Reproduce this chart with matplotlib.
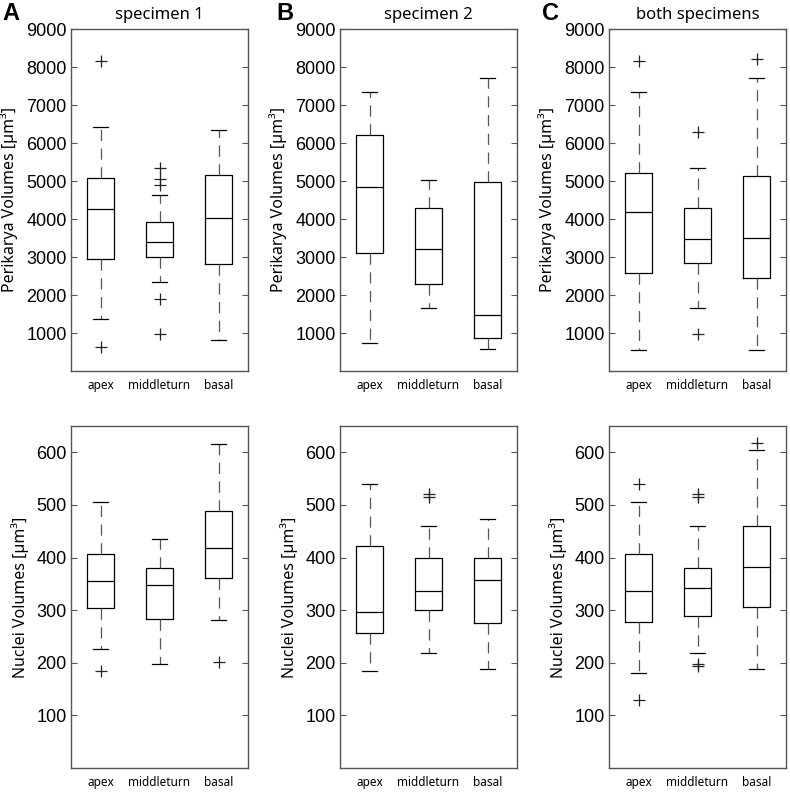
import matplotlib
matplotlib.use('Agg')
import matplotlib.pyplot as plt

plt.rcParams['font.family'] = ['Liberation Sans', 'DejaVu Sans']

# groups and panels
groups = ['apex', 'middleturn', 'basal']
letters = ['A', 'B', 'C']
titles = ['specimen 1', 'specimen 2', 'both specimens']

# Perikarya volumes (one row per panel: specimen 1, specimen 2, both)
peri_whislo = [[1360, 2335, 825], [737, 1668, 570], [540, 1668, 553]]
peri_q1 = [[2950, 3011, 2809], [3108, 2300, 860], [2572, 2836, 2441]]
peri_med = [[4258, 3389, 4021], [4829, 3213, 1475], [4197, 3486, 3512]]
peri_q3 = [[5092, 3925, 5171], [6208, 4285, 4961], [5198, 4285, 5136]]
peri_whishi = [[6430, 4627, 6330], [7330, 5031, 7700], [7330, 5347, 7700]]
peri_fliers = [[[8160, 640], [5330, 5050, 4900, 1900, 975], []],
               [[], [], []],
               [[8160], [6300, 975], [8210]]]

# Nuclei volumes
nuc_whislo = [[227, 197, 282], [185, 219, 188], [180, 219, 188]]
nuc_q1 = [[304, 284, 362], [256, 300, 275], [278, 289, 306]]
nuc_med = [[355, 348, 419], [297, 336, 358], [336, 343, 382]]
nuc_q3 = [[406, 380, 489], [421, 399, 399], [406, 380, 460]]
nuc_whishi = [[505, 435, 615], [539, 459, 474], [505, 459, 605]]
nuc_fliers = [[[184], [], [201]],
              [[], [520, 515], []],
              [[539, 130], [520, 515, 198, 194], [618]]]

peri_ticks = [1000, 2000, 3000, 4000, 5000, 6000, 7000, 8000, 9000]
nuc_ticks = [100, 200, 300, 400, 500, 600]

txt_font = ['Noto Sans', 'DejaVu Sans']


def make_stats(wlo, q1, med, q3, whi, fl):
    stats = []
    for i in range(len(groups)):
        stats.append(dict(whislo=wlo[i], q1=q1[i], med=med[i], q3=q3[i],
                          whishi=whi[i], fliers=fl[i], label=groups[i]))
    return stats


def draw_panel(ax, stats, ylim, yticks, ylabel, labelx):
    ax.bxp(stats, positions=[1, 2, 3], widths=0.46, capwidths=0.24,
           showfliers=True,
           boxprops=dict(color='black', linewidth=0.9),
           medianprops=dict(color='black', linewidth=0.9),
           whiskerprops=dict(color='#555555', linewidth=0.9,
                             linestyle=(0, (9, 6))),
           capprops=dict(color='black', linewidth=0.9),
           flierprops=dict(marker='+', markersize=8, markeredgewidth=0.9,
                           markeredgecolor='#222222'))
    ax.set_xlim(0.5, 3.5)
    ax.set_ylim(*ylim)
    ax.set_yticks(yticks)
    ax.set_xticks([1, 2, 3])
    ax.set_xticklabels(groups, fontsize=8.5, family=txt_font)
    ax.tick_params(axis='x', length=0, pad=6)
    ax.tick_params(axis='y', direction='in', length=4, width=0.8,
                   color='#555555', right=True, pad=3, labelsize=13)
    for s in ax.spines.values():
        s.set_color('#555555')
        s.set_linewidth(1.0)
    ax.set_ylabel(ylabel, fontsize=11.5, family=txt_font)
    ax.yaxis.set_label_coords(labelx, 0.5)


fig = plt.figure(figsize=(7.9, 7.92), dpi=100)

lefts = [71, 340, 609]
W, H = 790.0, 792.0
aw = 177 / W
ah = 342 / H
top_bottom = 1 - 371 / H
low_bottom = 1 - 768 / H
letter_x = [2, 276, 542]

for i in range(3):
    ax = fig.add_axes([lefts[i] / W, top_bottom, aw, ah])
    st = make_stats(peri_whislo[i], peri_q1[i], peri_med[i], peri_q3[i],
                    peri_whishi[i], peri_fliers[i])
    draw_panel(ax, st, (0, 9000), peri_ticks, 'Perikarya Volumes [µm³]', -0.30)
    ax.set_title(titles[i], fontsize=12, family=txt_font, pad=7)
    fig.text(letter_x[i] / W, 1 - 13 / H, letters[i], fontsize=17,
             fontweight='bold', ha='left', va='center')

    ax2 = fig.add_axes([lefts[i] / W, low_bottom, aw, ah])
    st2 = make_stats(nuc_whislo[i], nuc_q1[i], nuc_med[i], nuc_q3[i],
                     nuc_whishi[i], nuc_fliers[i])
    draw_panel(ax2, st2, (0, 650), nuc_ticks, 'Nuclei Volumes [µm³]', -0.235)

plt.savefig('out.png', dpi=100)
plt.close()
